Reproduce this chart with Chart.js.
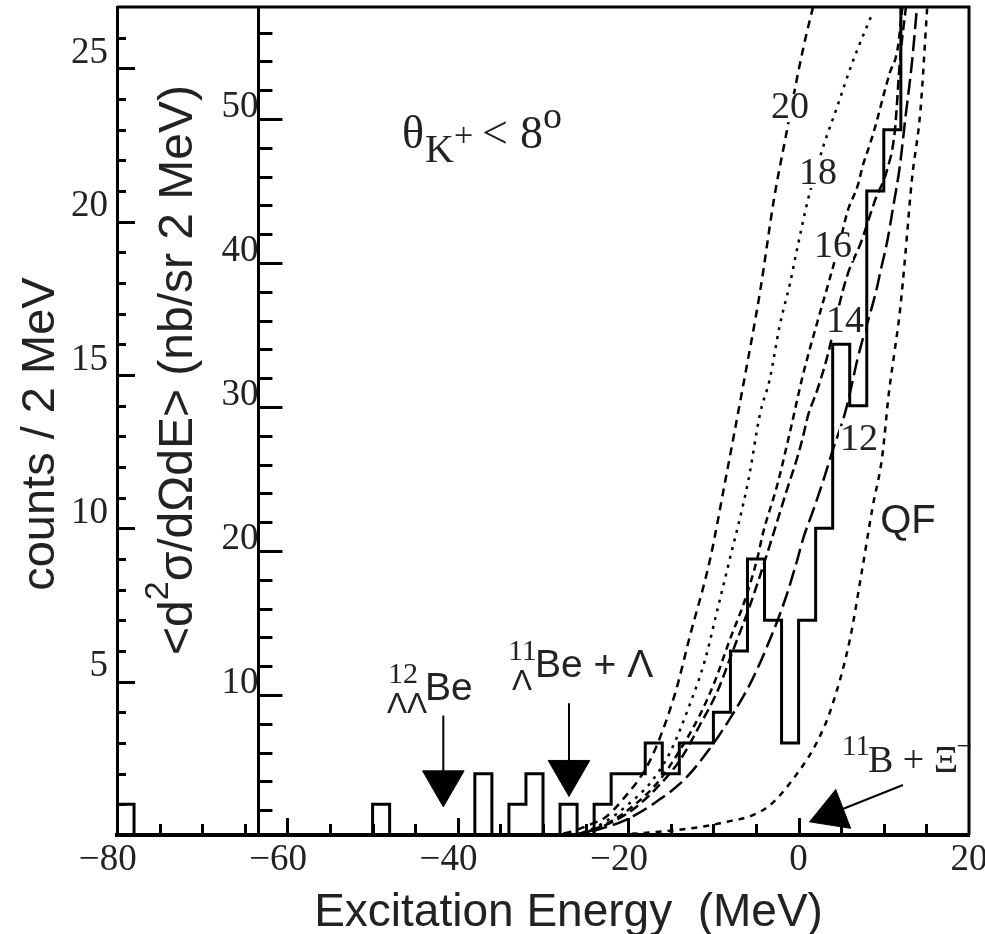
<!DOCTYPE html>
<html lang="en">
<head>
<meta charset="UTF-8">
<title>Excitation energy spectrum</title>
<script src="https://cdn.jsdelivr.net/npm/chart.js"></script>
<style>
  html, body { margin: 0; padding: 0; background: #fff; }
  #spectrum { display: block; }
</style>
</head>
<body>
<canvas id="spectrum" width="985" height="934"></canvas>
<script>
// histogram, 2 MeV bins: lower edge (MeV) and counts
const binLow = [-80, -78, -76, -74, -72, -70, -68, -66, -64, -62, -60, -58, -56, -54, -52,
                -50, -48, -46, -44, -42, -40, -38, -36, -34, -32, -30, -28, -26, -24, -22,
                -20, -18, -16, -14, -12, -10, -8, -6, -4, -2, 0, 2, 4, 6, 8, 10, 12];
const binCounts = [1, 0, 0, 0, 0, 0, 0, 0, 0, 0, 0, 0, 0, 0, 0,
                   1, 0, 0, 0, 0, 0, 2, 0, 1, 2, 0, 1, 0, 1, 2,
                   2, 3, 2, 3, 3, 4, 6, 9, 7, 3, 7, 10, 16, 14, 21, 23, 30];
const binWidth = 2;

// calculated spectra, <d2s/dOdE> in nb/sr 2 MeV, labelled by the curve tags
const c20E  = [-29.2, -26.8, -24.5, -22.7, -20.7, -17.4, -14.5, -12.8, -10.4, -8.6, -6.6, -4.5, -2.9, -1.6, 0.5, 1.7];
const c20Xs = [0.2, 0.5, 1.0, 1.5, 2.7, 5.5, 10.1, 14.0, 19.4, 24.9, 31.2, 38.1, 44.4, 48.5, 54.8, 57.8];

const c18E  = [-27.4, -25.1, -22.7, -20.0, -17.4, -15.1, -12.8, -11.0, -9.5, -8.3, -5.9, -4.5, -3.4, -2.2, -1.0, -0.2, 1.1, 2.9, 4.5, 6.3, 8.7];
const c18Xs = [0.2, 0.5, 1.2, 2.4, 3.9, 6.0, 9.3, 12.4, 16.0, 18.9, 24.9, 29.6, 31.9, 35.7, 38.6, 40.9, 44.4, 48.1, 50.8, 53.9, 57.4];

const c16E  = [-25.1, -22.1, -19.2, -16.3, -13.9, -11.6, -9.8, -8.1, -6.3, -4.8, -4.2, -2.5, -1.0, 0.5, 2.2, 3.7, 4.9, 5.8, 6.9, 7.6, 8.4, 9.2, 9.9, 10.7, 11.6, 12.2];
const c16Xs = [0.4, 1.2, 2.4, 4.1, 6.2, 8.6, 11.0, 13.8, 16.6, 19.6, 21.2, 24.6, 28.3, 32.2, 35.9, 39.0, 41.6, 43.7, 45.3, 46.9, 48.3, 49.9, 51.5, 53.2, 54.8, 57.8];

const c14E  = [-26.2, -23.3, -19.8, -16.9, -13.9, -11.6, -9.5, -7.7, -5.9, -4.3, -2.8, -1.4, -0.2, 0.5, 1.1, 2.2, 3.5, 4.6, 5.8, 7.3, 9.0, 10.4, 11.3, 11.9, 12.6];
const c14Xs = [0.3, 0.8, 1.9, 3.4, 5.5, 7.9, 10.3, 13.1, 15.9, 18.7, 21.5, 24.2, 26.4, 27.9, 29.4, 31.2, 33.8, 36.7, 39.3, 41.4, 44.4, 46.5, 49.2, 54.1, 57.8];

const c12E  = [-26.8, -23.9, -20.4, -16.9, -13.3, -10.4, -7.8, -5.5, -3.4, -1.6, -0.1, 0.5, 1.7, 2.9, 3.9, 5.5, 6.3, 6.9, 9.2, 9.6, 10.4, 11.1, 11.9, 12.5, 13.3, 13.9];
const c12Xs = [0.2, 0.6, 1.3, 2.5, 4.2, 6.3, 8.6, 11.0, 13.8, 16.6, 19.5, 20.8, 22.8, 24.9, 26.8, 29.7, 31.7, 33.3, 38.3, 39.4, 41.5, 43.9, 46.8, 49.9, 53.9, 57.8];

const qfE  = [-21.0, -14.7, -9.2, -3.7, -0.1, 2.3, 3.9, 6.0, 7.4, 8.7, 9.8, 10.6, 11.3, 11.9, 12.5, 13.3, 14.3, 15.1];
const qfXs = [0.3, 0.6, 1.1, 2.2, 4.6, 6.9, 9.2, 13.8, 18.5, 23.1, 26.5, 31.0, 34.0, 36.7, 40.4, 45.8, 50.6, 57.8];

// threshold arrows: shaft ends (energy, counts) and head centre
const llBeShaftE = [-41.7, -41.7],  llBeShaftC = [3.9, 1.7];
const lBeShaftE  = [-26.95, -26.95], lBeShaftC = [4.3, 2.0];
const xiShaftE   = [12.25, 3.92],    xiShaftC  = [1.63, 0.71];

// tick labels
const energyTicks = [-80, -60, -40, -20, 0, 20];
const countTicks = [5, 10, 15, 20, 25];
const xsecTicks = [10, 20, 30, 40, 50];

const innerAxisAt = -63.4;   // energy where the cross-section axis stands

const SERIF = '"Liberation Serif", "Times New Roman", serif';
const SANS = '"Liberation Sans", Arial, sans-serif';
const INK = '#222';

const zip = (xs, ys) => xs.map((v, i) => ({ x: v, y: ys[i] }));

const histPoints = zip(binLow, binCounts);
histPoints.push({ x: binLow[binLow.length - 1] + binWidth, y: binCounts[binCounts.length - 1] });

function curve(label, xs, ys, dash) {
  return {
    label: label, data: zip(xs, ys), yAxisID: 'y2',
    borderColor: '#000', borderWidth: 2.5, borderDash: dash,
    pointRadius: 0, cubicInterpolationMode: 'monotone', clip: 0
  };
}
function shaft(xs, ys) {
  return { label: 'arrow', data: zip(xs, ys), yAxisID: 'y', borderColor: '#000', borderWidth: 2, pointRadius: 0 };
}
function head(e, c, rot) {
  return {
    label: 'head', data: [{ x: e, y: c }], yAxisID: 'y', showLine: false,
    pointStyle: 'triangle', pointRadius: 24, pointRotation: rot,
    pointBackgroundColor: '#000', pointBorderColor: '#000', pointBorderWidth: 1
  };
}

const zeroPad = s => { s.paddingLeft = 0; s.paddingRight = 0; s.paddingTop = 0; s.paddingBottom = 0; };

// labels, inner axis title, inside ticks and the rest of the frame
const curveTags = [
  ['20', -1.01, 50.76, 38, SERIF], ['18', 2.28, 46.18, 38, SERIF], ['16', 4.04, 41.11, 38, SERIF],
  ['14', 5.45, 35.9, 38, SERIF], ['12', 7.09, 27.7, 38, SERIF], ['QF', 12.84, 22.0, 40, SANS]
];
const notes = [
  ['θ', -46.55, 22.40, 46, SERIF], ['K', -43.85, 21.94, 40, SERIF], ['+', -40.44, 22.46, 34, SERIF],
  ['<', -37.16, 22.40, 46, SERIF], ['8', -32.70, 22.40, 46, SERIF], ['o', -30.00, 23.07, 38, SERIF],
  ['12', -48.19, 4.96, 30, SERIF], ['ΛΛ', -48.31, 3.98, 30, SANS], ['Be', -43.85, 4.40, 39, SANS],
  ['11', -34.11, 5.71, 30, SERIF], ['Λ', -33.64, 4.73, 30, SANS], ['Be + Λ', -30.94, 5.15, 39, SANS],
  ['11', 5.09, 2.61, 29, SERIF], ['B + Ξ', 8.14, 2.05, 38, SERIF], ['\u2212', 18.57, 2.61, 28, SERIF]
];

const decor = {
  id: 'decor',
  afterDatasetsDraw(chart) {
    const { ctx, chartArea: a, scales: { x, y, y2 } } = chart;
    ctx.save();
    ctx.strokeStyle = '#000';
    ctx.lineCap = 'butt';

    // top and right sides of the box
    ctx.lineWidth = 3;
    ctx.beginPath();
    ctx.moveTo(a.left, a.top);
    ctx.lineTo(a.right, a.top);
    ctx.lineTo(a.right, a.bottom);
    ctx.stroke();

    // inside ticks: energy every 5 MeV
    for (let e = -75; e < 20; e += 5) {
      const px = Math.round(x.getPixelForValue(e)) + 0.5;
      const len = e % 20 === 0 ? 17 : 11;
      ctx.beginPath(); ctx.moveTo(px, a.bottom); ctx.lineTo(px, a.bottom - len); ctx.stroke();
    }
    // counts every 1
    for (let c = 1; c < 27; c++) {
      const py = Math.round(y.getPixelForValue(c)) + 0.5;
      const len = c % 5 === 0 ? 18 : 9;
      ctx.beginPath(); ctx.moveTo(a.left, py); ctx.lineTo(a.left + len, py); ctx.stroke();
    }
    // cross section every 2
    const ix = x.getPixelForValue(innerAxisAt);
    for (let s = 2; s < 57; s += 2) {
      const py = Math.round(y2.getPixelForValue(s)) + 0.5;
      const len = s % 10 === 0 ? 24 : 14;
      ctx.beginPath(); ctx.moveTo(ix, py); ctx.lineTo(ix + len, py); ctx.stroke();
    }

    // curve tags knock a gap in their curve
    ctx.textAlign = 'center';
    ctx.textBaseline = 'middle';
    curveTags.forEach(([t, e, s, size, fam]) => {
      ctx.font = size + 'px ' + fam;
      const px = x.getPixelForValue(e), py = y2.getPixelForValue(s);
      const w = ctx.measureText(t).width;
      ctx.fillStyle = '#fff';
      ctx.fillRect(px - w / 2 - 1, py - 14, w + 2, 28);
      ctx.fillStyle = INK;
      ctx.fillText(t, px, py);
    });

    // free text
    ctx.textAlign = 'left';
    ctx.textBaseline = 'alphabetic';
    notes.forEach(([t, e, c, size, fam]) => {
      ctx.font = size + 'px ' + fam;
      ctx.fillText(t, x.getPixelForValue(e), y.getPixelForValue(c));
    });

    // title of the inner (cross-section) axis, rotated
    ctx.translate(x.getPixelForValue(-71.2), y.getPixelForValue(5.87));
    ctx.rotate(-Math.PI / 2);
    let adv = 0;
    [['<d', 0, 48], ['2', -24, 34], ['σ/dΩdE> (nb/sr 2 MeV)', 0, 48]].forEach(([t, rise, size]) => {
      ctx.font = size + 'px ' + SANS;
      ctx.fillText(t, adv, rise);
      adv += ctx.measureText(t).width;
    });
    ctx.restore();
  }
};

Chart.defaults.font.family = SANS;
Chart.defaults.color = INK;

new Chart(document.getElementById('spectrum'), {
  type: 'line',
  data: {
    datasets: [
      {
        label: 'counts', data: histPoints, yAxisID: 'y', stepped: 'before',
        borderColor: '#000', borderWidth: 3, pointRadius: 0, clip: 0
      },
      curve('20', c20E, c20Xs, [8, 6]),
      curve('18', c18E, c18Xs, [3, 6]),
      curve('16', c16E, c16Xs, [7, 5]),
      curve('14', c14E, c14Xs, [10, 5]),
      curve('12', c12E, c12Xs, [16, 6]),
      curve('QF', qfE, qfXs, [6, 6]),
      shaft(llBeShaftE, llBeShaftC), head(-41.7, 1.70, 180),
      shaft(lBeShaftE, lBeShaftC), head(-26.95, 2.04, 180),
      shaft(xiShaftE, xiShaftC), head(3.92, 0.71, 249)
    ]
  },
  options: {
    responsive: false,
    animation: false,
    events: [],
    layout: { autoPadding: false, padding: { left: 0, right: 16, top: 7, bottom: 0 } },
    plugins: { legend: { display: false }, tooltip: { enabled: false } },
    scales: {
      x: {
        type: 'linear', min: -80, max: 20,
        afterBuildTicks: s => { s.ticks = energyTicks.map(v => ({ value: v })); },
        afterFit: s => { zeroPad(s); s.height = 99; },
        grid: { display: false, drawTicks: false },
        border: { display: true, color: '#000', width: 4 },
        ticks: {
          autoSkip: false, maxRotation: 0, padding: 3, color: INK,
          font: { family: SERIF, size: 37 },
          callback: v => v < 0 ? '\u2212' + Math.abs(v) + '  ' : String(v)
        },
        title: {
          display: true, text: '    Excitation Energy  (MeV)', color: INK,
          font: { family: SANS, size: 46, lineHeight: 1 }, padding: { top: 0, bottom: -2 }
        }
      },
      y: {
        type: 'linear', position: 'left', min: 0, max: 27,
        afterBuildTicks: s => { s.ticks = countTicks.map(v => ({ value: v })); },
        afterFit: s => { zeroPad(s); s.width = 117; },
        grid: { display: false, drawTicks: false },
        border: { display: true, color: '#000', width: 3 },
        ticks: { autoSkip: false, padding: 9, labelOffset: -15, color: INK, font: { family: SERIF, size: 37 } },
        title: {
          display: true, text: 'counts / 2 MeV  ', color: INK,
          font: { family: SANS, size: 47, lineHeight: 1 }, padding: { top: 18, bottom: 0 }
        }
      },
      y2: {
        type: 'linear', position: { x: innerAxisAt }, min: 0.28, max: 57.78,
        afterBuildTicks: s => { s.ticks = xsecTicks.map(v => ({ value: v })); },
        afterFit: zeroPad,
        grid: { display: false, drawTicks: false },
        border: { display: true, color: '#000', width: 3 },
        ticks: { autoSkip: false, padding: 4, labelOffset: -12, color: INK, font: { family: SERIF, size: 37 } }
      }
    }
  },
  plugins: [decor]
});
</script>
</body>
</html>
